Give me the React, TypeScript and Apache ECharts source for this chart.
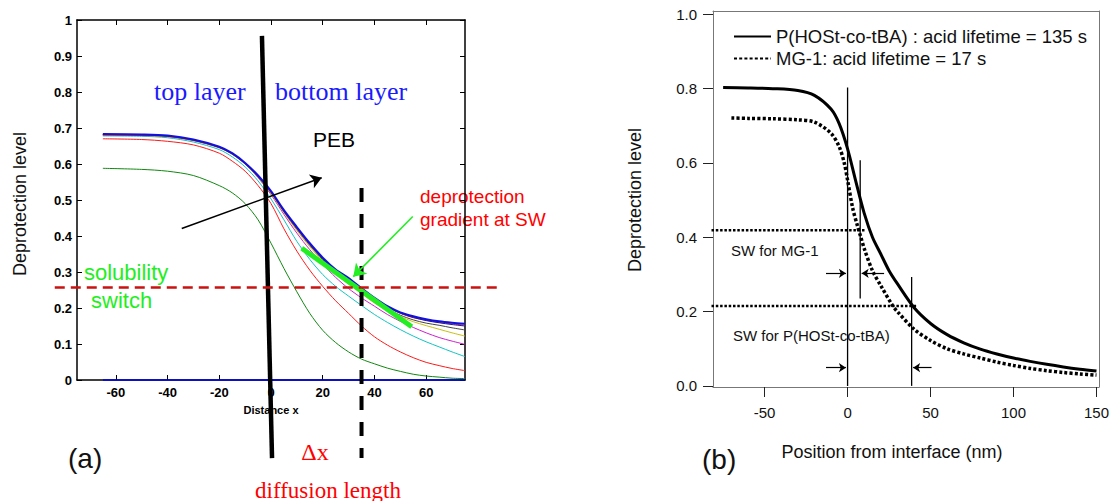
import React, { useEffect, useRef } from "react";
import * as echarts from "echarts";

// ---------- Panel (a) data ----------
const aX = [-65, -50, -40, -30, -20, -15, -10, -5, 0, 5, 10, 15, 20, 25, 30, 35, 40, 45, 50, 55, 60, 65, 70, 75];
const aBlue = [0.683, 0.682, 0.679, 0.668, 0.648, 0.63, 0.603, 0.568, 0.525, 0.472, 0.425, 0.38, 0.34, 0.307, 0.283, 0.255, 0.228, 0.205, 0.188, 0.177, 0.169, 0.163, 0.159, 0.156];
const aNavy = [0.682, 0.681, 0.678, 0.667, 0.647, 0.629, 0.602, 0.566, 0.523, 0.47, 0.422, 0.377, 0.337, 0.304, 0.279, 0.252, 0.226, 0.203, 0.186, 0.174, 0.165, 0.159, 0.154, 0.15];
const aRed2 = [0.681, 0.68, 0.677, 0.666, 0.646, 0.628, 0.601, 0.565, 0.522, 0.469, 0.421, 0.376, 0.336, 0.303, 0.278, 0.251, 0.225, 0.202, 0.185, 0.173, 0.166, 0.16, 0.156, 0.152];
const aBlack = [0.681, 0.68, 0.677, 0.666, 0.646, 0.628, 0.601, 0.564, 0.52, 0.467, 0.419, 0.374, 0.334, 0.3, 0.273, 0.247, 0.222, 0.198, 0.18, 0.167, 0.158, 0.152, 0.145, 0.139];
const aYellow = [0.68, 0.679, 0.676, 0.665, 0.645, 0.627, 0.6, 0.563, 0.518, 0.465, 0.415, 0.37, 0.33, 0.295, 0.266, 0.24, 0.214, 0.193, 0.176, 0.162, 0.151, 0.141, 0.131, 0.122];
const aMagenta = [0.68, 0.679, 0.676, 0.665, 0.645, 0.627, 0.6, 0.562, 0.515, 0.46, 0.408, 0.362, 0.322, 0.285, 0.254, 0.228, 0.205, 0.182, 0.163, 0.146, 0.131, 0.118, 0.108, 0.099];
const aCyan = [0.678, 0.677, 0.673, 0.661, 0.64, 0.62, 0.592, 0.553, 0.503, 0.445, 0.385, 0.335, 0.293, 0.26, 0.233, 0.207, 0.182, 0.16, 0.14, 0.122, 0.106, 0.092, 0.078, 0.065];
const aRed = [0.67, 0.668, 0.663, 0.653, 0.63, 0.608, 0.58, 0.54, 0.49, 0.42, 0.358, 0.305, 0.26, 0.22, 0.185, 0.15, 0.12, 0.097, 0.078, 0.062, 0.049, 0.04, 0.032, 0.026];
const aGreen = [0.588, 0.585, 0.58, 0.568, 0.54, 0.52, 0.49, 0.445, 0.38, 0.31, 0.245, 0.185, 0.138, 0.104, 0.078, 0.058, 0.045, 0.033, 0.024, 0.016, 0.011, 0.008, 0.005, 0.004];
const aZero = [0, 0, 0, 0, 0, 0, 0, 0, 0, 0, 0, 0, 0, 0, 0, 0, 0, 0, 0, 0, 0, 0, 0, 0];
const aXTicks = [-60, -40, -20, 0, 20, 40, 60];
const aYTicks = [0, 0.1, 0.2, 0.3, 0.4, 0.5, 0.6, 0.7, 0.8, 0.9, 1];

// Panel (a) annotations (data coordinates)
const aInterface = [[-3.5, 0.956], [0.4, -0.217]];
const aDiffusionEdge = [[35, 0.533], [35, -0.217]];
const aSwitchLevel = [[-83.6, 0.257], [88.6, 0.257]];
const aTangent = [[11.9, 0.366], [54.4, 0.148]];
const aPebArrow = [[-34.5, 0.421], [19.6, 0.562]];
const aGradientArrow = [[54.8, 0.454], [31.8, 0.287]];
const aLeftArrow = [[-23.2, -0.1925], [-3.5, -0.1925]];
const aRightArrow = [[58.8, -0.1925], [39.5, -0.1925]];

// ---------- Panel (b) data ----------
const bSolidX = [-75, -60, -45, -30, -20, -10, -5, 0, 5, 10, 15, 20, 25, 30, 40, 50, 60, 70, 80, 90, 100, 110, 120, 130, 140, 150];
const bSolidY = [0.803, 0.802, 0.8, 0.795, 0.782, 0.745, 0.705, 0.638, 0.55, 0.465, 0.4, 0.355, 0.31, 0.275, 0.211, 0.168, 0.138, 0.116, 0.099, 0.086, 0.075, 0.066, 0.058, 0.051, 0.045, 0.04];
const bDotX = [-70, -60, -45, -30, -20, -10, -5, -2, 0, 3, 6, 8, 10, 15, 20, 27, 30, 40, 50, 60, 70, 80, 90, 100, 110, 120, 130, 140, 150];
const bDotY = [0.721, 0.72, 0.719, 0.716, 0.71, 0.68, 0.643, 0.6, 0.554, 0.48, 0.43, 0.4, 0.37, 0.31, 0.27, 0.217, 0.2, 0.153, 0.122, 0.1, 0.086, 0.075, 0.064, 0.055, 0.047, 0.041, 0.036, 0.032, 0.029];
const bXTicks = [-50, 0, 50, 100, 150];
const bYTicks = [0, 0.2, 0.4, 0.6, 0.8, 1.0];
const bNames = ["P(HOSt-co-tBA) : acid lifetime = 135 s", "MG-1: acid lifetime = 17 s"];

// Panel (b) annotations (data coordinates)
const bVert0 = [[0, 0.803], [0, 0]];
const bVertMG = [[7.6, 0.607], [7.6, 0.235]];
const bVertP = [[38.6, 0.293], [38.6, 0]];
const bSwMG = [[-82, 0.419], [10.4, 0.419]];
const bSwP = [[-82, 0.215], [41.4, 0.215]];
const bArrows = [
  [[-13, 0.303], [-1, 0.303]],
  [[22, 0.303], [8.5, 0.303]],
  [[-13, 0.049], [-1, 0.049]],
  [[50.6, 0.049], [39.5, 0.049]],
];

const SANS = '"Liberation Sans", Arial, sans-serif';
const SERIF = '"Liberation Serif", "Times New Roman", serif';

const zip = (xs: number[], ys: number[]) => xs.map((x, i) => [x, ys[i]]);

function curve(xAxisIndex: number, yAxisIndex: number, data: number[][], color: string, width: number, extra: any = {}) {
  return {
    type: "line",
    xAxisIndex,
    yAxisIndex,
    data,
    symbol: "none",
    showSymbol: false,
    silent: true,
    clip: false,
    itemStyle: { color },
    lineStyle: { color, width, ...(extra.lineStyle || {}) },
    ...extra.series,
  };
}

function arrows(xAxisIndex: number, yAxisIndex: number, segs: number[][][], color: string, width: number, size: number) {
  return {
    type: "line",
    xAxisIndex,
    yAxisIndex,
    data: [segs[0][0]],
    symbol: "none",
    showSymbol: false,
    silent: true,
    clip: false,
    lineStyle: { width: 0 },
    markLine: {
      silent: true,
      symbol: ["none", "arrow"],
      symbolSize: size,
      label: { show: false },
      lineStyle: { color, width, type: "solid" },
      emphasis: { disabled: true },
      data: segs.map((s) => [{ coord: s[0] }, { coord: s[1] }]),
    },
  };
}

function txt(x: number, y: number, text: string, size: number, color: string, family: string, opts: any = {}) {
  return {
    type: "text",
    x,
    y,
    rotation: opts.rotation || 0,
    silent: true,
    style: {
      text,
      fontSize: size,
      fontFamily: family,
      fontWeight: opts.weight || "normal",
      fill: color,
      align: opts.align || "left",
      verticalAlign: "middle",
    },
  };
}

export default function App() {
  const ref = useRef<HTMLDivElement>(null);
  useEffect(() => {
    if (!ref.current) return;
    const chart = echarts.init(ref.current, null, { renderer: "svg" });
    const boxA = { color: "#000", width: 1.5 };
    const boxB = { color: "#777", width: 1 };
    const texts = [
      txt(20, 204, "Deprotection level", 18, "#111", SANS, { align: "center", rotation: Math.PI / 2 }),
      txt(271, 410, "Distance x", 11, "#000", SANS, { align: "center", weight: "bold" }),
      txt(154, 91, "top layer", 26, "#1a1aff", SERIF),
      txt(275, 91, "bottom layer", 26, "#1a1aff", SERIF),
      txt(313, 139, "PEB", 21, "#000", SANS),
      txt(420, 196, "deprotection", 19, "#ff0000", SANS),
      txt(420, 219, "gradient at SW", 19, "#ff0000", SANS),
      txt(84, 272, "solubility", 22, "#22ee22", SANS),
      txt(91, 300, "switch", 22, "#22ee22", SANS),
      txt(68, 458, "(a)", 28, "#111", SANS),
      txt(315, 452, "\u0394x", 24, "#ff0000", SERIF, { align: "center" }),
      txt(328, 490, "diffusion length", 23, "#ff0000", SERIF, { align: "center" }),
      txt(635, 200, "Deprotection level", 18, "#111", SANS, { align: "center", rotation: Math.PI / 2 }),
      txt(892, 452, "Position from interface (nm)", 18, "#111", SANS, { align: "center" }),
      txt(702, 459, "(b)", 28, "#111", SANS),
      txt(731, 250, "SW for MG-1", 15, "#111", SANS),
      txt(733, 335, "SW for P(HOSt-co-tBA)", 15, "#111", SANS),
    ];
    const option: any = {
      animation: false,
      backgroundColor: "#fff",
      grid: [
        { left: 77, top: 20, width: 388, height: 360 },
        { left: 713, top: 11, width: 388, height: 376 },
      ],
      legend: {
        data: bNames,
        orient: "vertical",
        left: 733,
        top: 27,
        padding: 0,
        itemWidth: 37,
        itemHeight: 14,
        itemGap: 3,
        selectedMode: false,
        itemStyle: { opacity: 0 },
        textStyle: { fontSize: 18.5, fontFamily: SANS, color: "#111" },
      },
      xAxis: [
        {
          gridIndex: 0, type: "value", min: -75, max: 75, position: "bottom",
          axisLine: { onZero: false, lineStyle: boxA },
          axisTick: { inside: true, length: 5, customValues: aXTicks, lineStyle: { color: "#000" } },
          axisLabel: { customValues: aXTicks, fontSize: 13, fontWeight: "bold", color: "#000", margin: 6, fontFamily: SANS },
          splitLine: { show: false },
        },
        {
          gridIndex: 0, type: "value", min: -75, max: 75, position: "top",
          axisLine: { onZero: false, lineStyle: boxA },
          axisTick: { inside: true, length: 5, customValues: aXTicks, lineStyle: { color: "#000" } },
          axisLabel: { show: false },
          splitLine: { show: false },
        },
        {
          gridIndex: 1, type: "value", min: -81.1, max: 151.5, position: "bottom",
          axisLine: { onZero: false, lineStyle: boxB },
          axisTick: { inside: false, length: 10, customValues: bXTicks, lineStyle: { color: "#222" } },
          axisLabel: { customValues: bXTicks, fontSize: 15, color: "#111", margin: 18, fontFamily: SANS },
          splitLine: { show: false },
        },
        {
          gridIndex: 1, type: "value", min: -81.1, max: 151.5, position: "top",
          axisLine: { onZero: false, lineStyle: boxB },
          axisTick: { show: false },
          axisLabel: { show: false },
          splitLine: { show: false },
        },
      ],
      yAxis: [
        {
          gridIndex: 0, type: "value", min: 0, max: 1, position: "left",
          axisLine: { onZero: false, lineStyle: boxA },
          axisTick: { inside: true, length: 5, customValues: aYTicks, lineStyle: { color: "#000" } },
          axisLabel: { customValues: aYTicks, fontSize: 13, fontWeight: "bold", color: "#000", margin: 5, fontFamily: SANS },
          splitLine: { show: false },
        },
        {
          gridIndex: 0, type: "value", min: 0, max: 1, position: "right",
          axisLine: { onZero: false, lineStyle: boxA },
          axisTick: { inside: true, length: 5, customValues: aYTicks, lineStyle: { color: "#000" } },
          axisLabel: { show: false },
          splitLine: { show: false },
        },
        {
          gridIndex: 1, type: "value", min: -0.003, max: 1.009, position: "left",
          axisLine: { onZero: false, lineStyle: boxB },
          axisTick: { inside: false, length: 10, customValues: bYTicks, lineStyle: { color: "#222" } },
          axisLabel: {
            customValues: bYTicks, fontSize: 15, color: "#111", margin: 16, fontFamily: SANS,
            formatter: (v: number) => v.toFixed(1),
          },
          splitLine: { show: false },
        },
        {
          gridIndex: 1, type: "value", min: -0.003, max: 1.009, position: "right",
          axisLine: { onZero: false, lineStyle: boxB },
          axisTick: { show: false },
          axisLabel: { show: false },
          splitLine: { show: false },
        },
      ],
      series: [
        // panel (a) curves
        curve(0, 0, zip(aX, aZero), "#0000ee", 1.5),
        curve(0, 0, zip(aX, aGreen), "#118811", 1, { series: { smooth: 0.3 } }),
        curve(0, 0, zip(aX, aRed), "#ff1a1a", 1, { series: { smooth: 0.3 } }),
        curve(0, 0, zip(aX, aCyan), "#11c4c4", 1, { series: { smooth: 0.3 } }),
        curve(0, 0, zip(aX, aMagenta), "#cc22cc", 1, { series: { smooth: 0.3 } }),
        curve(0, 0, zip(aX, aYellow), "#c8c010", 1, { series: { smooth: 0.3 } }),
        curve(0, 0, zip(aX, aBlack), "#444444", 1, { series: { smooth: 0.3 } }),
        curve(0, 0, zip(aX, aRed2), "#ee2222", 1, { series: { smooth: 0.3 } }),
        curve(0, 0, zip(aX, aNavy), "#1a1a99", 1, { series: { smooth: 0.3 } }),
        curve(0, 0, zip(aX, aBlue), "#1010e0", 2, { series: { smooth: 0.3 } }),
        // panel (a) annotations
        curve(0, 0, aTangent, "#22ee22", 5),
        curve(0, 0, aInterface, "#000", 4.5),
        curve(0, 0, aDiffusionEdge, "#000", 4, { lineStyle: { type: [14, 12] } }),
        arrows(0, 0, [aPebArrow], "#000", 1.6, 11),
        arrows(0, 0, [aGradientArrow], "#22ee22", 1.6, 12),
        arrows(0, 0, [aLeftArrow, aRightArrow], "#000", 1.4, 9),
        // panel (b) curves
        curve(2, 2, zip(bDotX, bDotY), "#000", 3.5, { series: { name: bNames[1], smooth: 0.3 }, lineStyle: { type: [3, 2.2] } }),
        curve(2, 2, zip(bSolidX, bSolidY), "#000", 3, { series: { name: bNames[0], smooth: 0.3 } }),
        // panel (b) annotations
        curve(2, 2, bSwMG, "#000", 2.5, { lineStyle: { type: [2.5, 1.8] } }),
        curve(2, 2, bSwP, "#000", 2.5, { lineStyle: { type: [2.5, 1.8] } }),
        curve(2, 2, bVert0, "#000", 1.3),
        curve(2, 2, bVertMG, "#000", 1.3),
        curve(2, 2, bVertP, "#000", 1.3),
        arrows(2, 2, bArrows, "#000", 1.2, 7),
      ],
      graphic: texts,
    };
    chart.setOption(option);
    // the solubility-switch level runs past the plot box on both sides
    const p1 = chart.convertToPixel({ xAxisIndex: 0, yAxisIndex: 0 }, aSwitchLevel[0]) as number[];
    const p2 = chart.convertToPixel({ xAxisIndex: 0, yAxisIndex: 0 }, aSwitchLevel[1]) as number[];
    chart.setOption({
      graphic: [
        ...texts,
        {
          type: "line",
          silent: true,
          z: 5,
          shape: { x1: p1[0], y1: p1[1], x2: p2[0], y2: p2[1] },
          style: { stroke: "#cc1111", lineWidth: 2.5, lineDash: [10, 6] },
        },
      ],
    });
    return () => chart.dispose();
  }, []);
  return (
    <div
      ref={ref}
      style={{ position: "fixed", left: 0, top: 0, width: 1112, height: 501, background: "#fff" }}
    />
  );
}
